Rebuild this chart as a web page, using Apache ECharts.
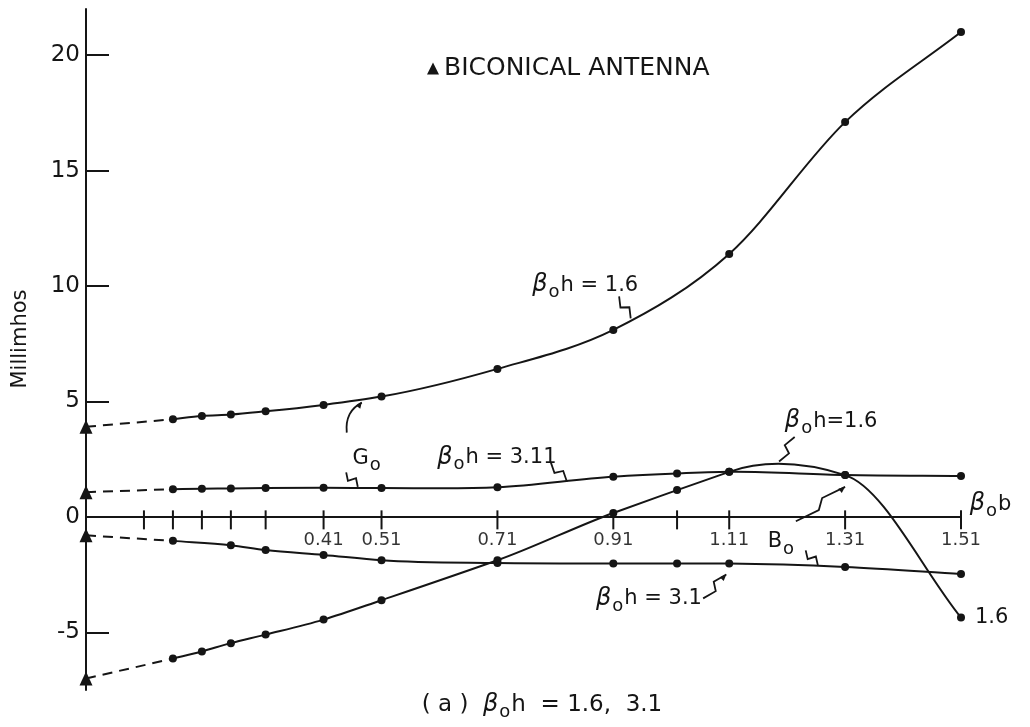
<!DOCTYPE html>
<html>
<head>
<meta charset="utf-8">
<script src="https://cdn.jsdelivr.net/npm/echarts@6/dist/echarts.min.js"></script>
<style>
  html, body { margin: 0; padding: 0; background: #fff; }
  #chart { width: 1030px; height: 727px; }
</style>
</head>
<body>
<div id="chart"></div>
<script>
// Tick marks along the β0b axis and the ones that carry a label
const xTicks = [0.10, 0.15, 0.20, 0.25, 0.31, 0.41, 0.51, 0.71, 0.91, 1.02, 1.11, 1.31, 1.51];
const xLabels = [0.41, 0.51, 0.71, 0.91, 1.11, 1.31, 1.51];
const yLabels = [-5, 0, 5, 10, 15, 20];
const yTicks = [-5, 5, 10, 15, 20];

// Conductance G0, β0h = 1.6
const bG16 = [0.15, 0.20, 0.25, 0.31, 0.41, 0.51, 0.71, 0.91, 1.11, 1.31, 1.51];
const G16 = [4.23, 4.37, 4.43, 4.57, 4.85, 5.21, 6.41, 8.10, 11.39, 17.10, 21.00];
// Conductance G0, β0h = 3.11
const bG311 = [0.15, 0.20, 0.25, 0.31, 0.41, 0.51, 0.71, 0.91, 1.02, 1.11, 1.31, 1.51];
const G311 = [1.20, 1.22, 1.23, 1.25, 1.26, 1.25, 1.28, 1.74, 1.88, 1.95, 1.81, 1.77];
// Susceptance B0, β0h = 1.6
const bB16 = [0.15, 0.20, 0.25, 0.31, 0.41, 0.51, 0.71, 0.91, 1.02, 1.11, 1.31, 1.51];
const B16 = [-6.14, -5.83, -5.47, -5.10, -4.45, -3.61, -1.88, 0.17, 1.16, 1.95, 1.81, -4.36];
// Susceptance B0, β0h = 3.1
const bB31 = [0.15, 0.25, 0.31, 0.41, 0.51, 0.71, 0.91, 1.02, 1.11, 1.31, 1.51];
const B31 = [-1.04, -1.23, -1.44, -1.65, -1.88, -2.00, -2.02, -2.02, -2.02, -2.17, -2.48];

// Biconical antenna values at β0b = 0
const biG16 = 3.9;
const biG311 = 1.07;
const biB31 = -0.8;
const biB16 = -7.0;

const INK = '#151515';
const FONT = '"DejaVu Sans", sans-serif';

const pairs = (xs, ys) => xs.map((x, i) => [x, ys[i]]);

function secants(xs, ys) {
  const s = [];
  for (let k = 0; k < xs.length - 1; k++) s.push((ys[k + 1] - ys[k]) / (xs[k + 1] - xs[k]));
  return s;
}
// Slopes of the parabola through each point and its two neighbours
function parabolicSlopes(xs, ys) {
  const n = xs.length, s = secants(xs, ys), m = [s[0]];
  for (let i = 1; i < n - 1; i++) {
    const h0 = xs[i] - xs[i - 1], h1 = xs[i + 1] - xs[i];
    m.push((h1 * s[i - 1] + h0 * s[i]) / (h0 + h1));
  }
  m.push(s[n - 2]);
  return m;
}
// Akima slopes: follow the straighter side where the curve turns sharply
function akimaSlopes(xs, ys) {
  const n = xs.length, s = secants(xs, ys);
  const S = k => {
    if (k >= 0 && k < n - 1) return s[k];
    if (k === -1) return 2 * s[0] - s[1];
    if (k === -2) return 3 * s[0] - 2 * s[1];
    if (k === n - 1) return 2 * s[n - 2] - s[n - 3];
    return 3 * s[n - 2] - 2 * s[n - 3];
  };
  const m = [s[0]];
  for (let i = 1; i < n - 1; i++) {
    const w1 = Math.abs(S(i + 1) - S(i)), w2 = Math.abs(S(i - 1) - S(i - 2));
    m.push(w1 + w2 > 1e-9 ? (w1 * S(i - 1) + w2 * S(i)) / (w1 + w2) : (S(i - 1) + S(i)) / 2);
  }
  m.push(s[n - 2]);
  return m;
}

// Smooth curve y(x) through the points, one cubic segment per interval
function curve(xs, ys, slopeFn) {
  const n = xs.length;
  const m = slopeFn(xs, ys);
  return {
    type: 'custom', data: pairs(xs, ys), silent: true, z: 3, clip: false,
    renderItem(params, api) {
      const i = params.dataIndex;
      if (i >= n - 1) return null;
      const h = (xs[i + 1] - xs[i]) / 3;
      const P0 = api.coord([xs[i], ys[i]]);
      const C1 = api.coord([xs[i] + h, ys[i] + m[i] * h]);
      const C2 = api.coord([xs[i + 1] - h, ys[i + 1] - m[i + 1] * h]);
      const P1 = api.coord([xs[i + 1], ys[i + 1]]);
      return {
        type: 'bezierCurve',
        shape: {
          x1: P0[0], y1: P0[1], x2: P1[0], y2: P1[1],
          cpx1: C1[0], cpy1: C1[1], cpx2: C2[0], cpy2: C2[1]
        },
        style: { stroke: INK, lineWidth: 2, fill: null }
      };
    }
  };
}
function dots(xs, ys) {
  return {
    type: 'scatter', data: pairs(xs, ys), symbol: 'circle', symbolSize: 8,
    itemStyle: { color: INK, opacity: 1 }, silent: true, z: 5, clip: false
  };
}
function dashed(bi, xs, ys) {
  return {
    type: 'line', data: [[0, bi], [xs[0], ys[0]]], symbol: 'none',
    lineStyle: { color: INK, width: 2, type: [10, 7] }, silent: true, z: 2
  };
}

const chart = echarts.init(document.getElementById('chart'), null, { renderer: 'canvas' });

chart.setOption({
  animation: false,
  backgroundColor: '#fff',
  textStyle: { fontFamily: FONT, color: INK },
  grid: { left: 86, top: 9, width: 875, height: 681, containLabel: false },
  legend: {
    data: ['BICONICAL ANTENNA'], left: 422, top: 51,
    icon: 'triangle', itemWidth: 12, itemHeight: 12, itemGap: 13,
    textStyle: { fontFamily: FONT, fontSize: 25, color: INK }
  },
  xAxis: {
    type: 'value', min: 0, max: 1.51,
    axisLine: { onZero: true, lineStyle: { color: INK, width: 2 } },
    axisTick: { show: false },
    axisLabel: { show: false },
    splitLine: { show: false }
  },
  yAxis: {
    type: 'value', min: -7.5, max: 22,
    axisLine: { lineStyle: { color: INK, width: 2 } },
    axisTick: { customValues: yTicks, inside: true, length: 23, lineStyle: { color: INK, width: 2 } },
    splitLine: { show: false },
    axisLabel: { customValues: yLabels, margin: 6, fontSize: 23, color: INK, fontFamily: FONT }
  },
  series: [
    dashed(biG16, bG16, G16),
    dashed(biG311, bG311, G311),
    dashed(biB31, bB31, B31),
    dashed(biB16, bB16, B16),
    curve(bG16, G16, parabolicSlopes),
    curve(bG311, G311, parabolicSlopes),
    curve(bB16, B16, akimaSlopes),
    curve(bB31, B31, parabolicSlopes),
    dots(bG16, G16),
    dots(bG311, G311),
    dots(bB16, B16),
    dots(bB31, B31),
    {
      name: 'BICONICAL ANTENNA', type: 'scatter',
      data: [biG16, biG311, biB31, biB16].map(v => [0, v]),
      symbol: 'triangle', symbolSize: [13, 14], itemStyle: { color: INK, opacity: 1 },
      silent: true, z: 6, clip: false
    },
    {
      // tick marks crossing the β0b axis
      type: 'scatter', data: xTicks.map(v => [v, 0]),
      symbol: 'rect', symbolSize: [2, 19], symbolOffset: [0, 3],
      itemStyle: { color: INK, opacity: 1 }, silent: true, z: 4
    },
    {
      // β0b tick labels, hung below the zero line
      type: 'scatter', data: xLabels.map(v => [v, 0]),
      symbol: 'circle', symbolSize: 1, itemStyle: { color: 'rgba(0,0,0,0)' },
      silent: true, z: 4,
      label: {
        show: true, position: 'bottom', distance: 14,
        fontFamily: FONT, fontSize: 18, color: '#000',
        formatter: p => p.value[0].toFixed(2)
      }
    }
  ]
});

// Curve labels and their leaders, anchored in data coordinates
const rich = {
  b: { fontFamily: FONT, fontSize: 24, fontStyle: 'italic', fill: INK },
  s: { fontFamily: FONT, fontSize: 18, padding: [15, 1, 0, 1], fill: INK },
  t: { fontFamily: FONT, fontSize: 21, fill: INK },
  T: { fontFamily: FONT, fontSize: 23, fill: INK }
};
const beta = rest => '{b|β}{s|o}{t|' + rest + '}';
const P = (x, y) => chart.convertToPixel({ gridIndex: 0 }, [x, y]);

function label(x, y, text, align) {
  const p = P(x, y);
  return {
    type: 'text', x: p[0], y: p[1], silent: true,
    style: { text, rich, fill: INK, font: '21px ' + FONT, align: align || 'left', verticalAlign: 'middle' }
  };
}
function squiggle(a, b) {
  const A = P(a[0], a[1]), B = P(b[0], b[1]);
  const dx = B[0] - A[0], dy = B[1] - A[1];
  const L = Math.hypot(dx, dy), nx = -dy / L, ny = dx / L;
  const at = (t, o) => [A[0] + dx * t + nx * o, A[1] + dy * t + ny * o];
  return {
    type: 'polyline', silent: true,
    shape: { points: [A, at(0.42, 4), at(0.58, -4), B] },
    style: { stroke: INK, lineWidth: 1.8, fill: null }
  };
}
function arrowHead(a, b) {
  const A = P(a[0], a[1]), B = P(b[0], b[1]);
  const ang = Math.atan2(B[1] - A[1], B[0] - A[0]);
  const s = 7;
  const l = [B[0] - s * Math.cos(ang - 0.4), B[1] - s * Math.sin(ang - 0.4)];
  const r = [B[0] - s * Math.cos(ang + 0.4), B[1] - s * Math.sin(ang + 0.4)];
  return { type: 'polygon', silent: true, shape: { points: [B, l, r] }, style: { fill: INK } };
}
function bend(pts) {
  return {
    type: 'polyline', silent: true, shape: { points: pts.map(q => P(q[0], q[1])), smooth: 0.5 },
    style: { stroke: INK, lineWidth: 1.8, fill: null }
  };
}

chart.setOption({
  graphic: [
    {
      type: 'text', x: 21, y: 339, rotation: Math.PI / 2, silent: true,
      style: { text: 'Millimhos', fill: INK, font: '21px ' + FONT, align: 'center', verticalAlign: 'middle' }
    },
    label(0.770, 10.04, beta('h = 1.6')),
    squiggle([0.920, 9.55], [0.940, 8.60]),
    label(0.485, 2.54, '{t|G}{s|o}', 'center'),
    bend([[0.450, 3.65], [0.455, 4.45], [0.476, 4.95]]),
    arrowHead([0.468, 4.70], [0.476, 4.98]),
    squiggle([0.449, 1.93], [0.469, 1.30]),
    label(0.606, 2.58, beta('h = 3.11')),
    squiggle([0.802, 2.37], [0.830, 1.52]),
    label(1.206, 4.15, beta('h=1.6')),
    squiggle([1.223, 3.46], [1.196, 2.40]),
    label(1.525, 0.55, beta('b')),
    label(1.200, -1.06, '{t|B}{s|o}', 'center'),
    squiggle([1.225, -0.19], [1.310, 1.30]),
    arrowHead([1.300, 1.10], [1.310, 1.30]),
    squiggle([1.242, -1.45], [1.263, -2.10]),
    label(0.880, -3.53, beta('h = 3.1')),
    squiggle([1.065, -3.53], [1.105, -2.50]),
    arrowHead([1.095, -2.75], [1.105, -2.50]),
    label(1.534, -4.36, '{t|1.6}'),
    {
      type: 'text', x: 542, y: 705, silent: true,
      style: {
        text: '{T|( a )  }{b|β}{s|o}{T|h  = 1.6,  3.1}', rich, fill: INK,
        font: '23px ' + FONT, align: 'center', verticalAlign: 'middle'
      }
    }
  ]
});
</script>
</body>
</html>
